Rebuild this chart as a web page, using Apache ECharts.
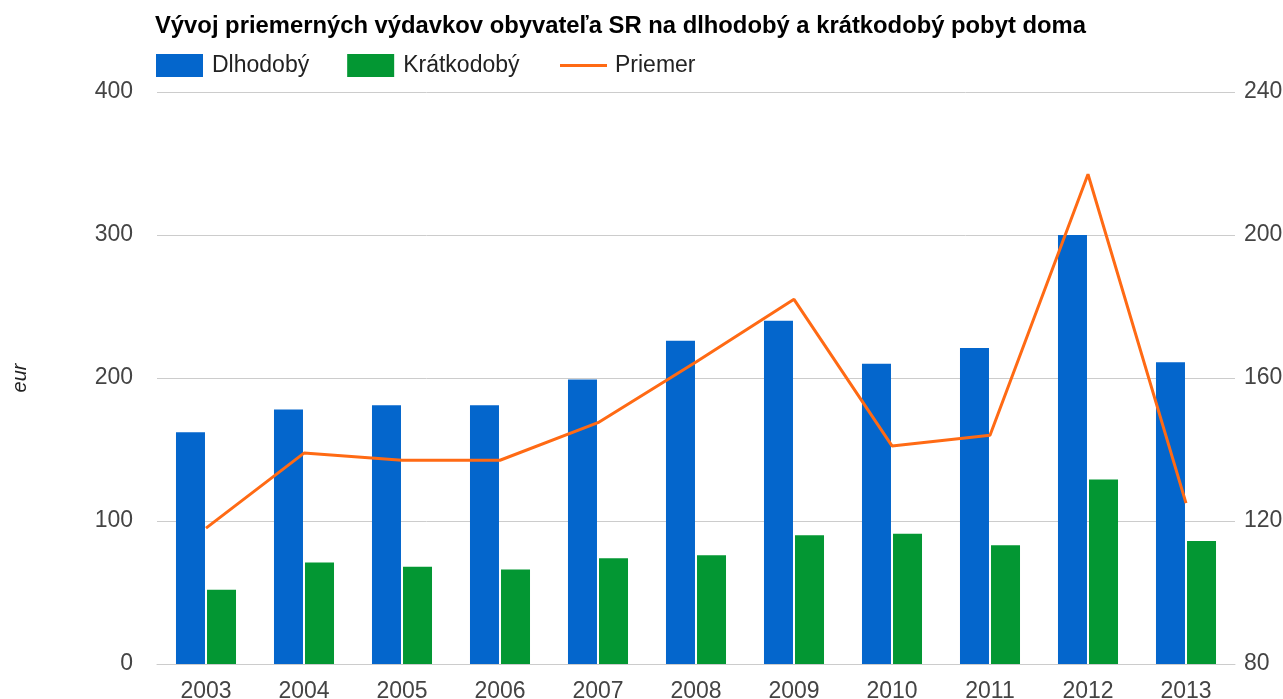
<!DOCTYPE html>
<html><head><meta charset="utf-8">
<script src="https://cdn.jsdelivr.net/npm/echarts@6/dist/echarts.min.js"></script>
<style>html,body{margin:0;padding:0;background:#fff}#c{width:1283px;height:699px}</style>
</head><body><div id="c"></div>
<script>
const years = ['2003','2004','2005','2006','2007','2008','2009','2010','2011','2012','2013'];
const dlhodoby = [162, 178, 181, 181, 199, 226, 240, 210, 221, 300, 211];
const kratkodoby = [52, 71, 68, 66, 74, 76, 90, 91, 83, 129, 86];
const priemer = [118, 139, 137, 137, 147.5, 164.5, 182, 141, 144, 217, 125];
const seriesNames = ['Dlhodobý', 'Krátkodobý', 'Priemer'];
const titleText = 'Vývoj priemerných výdavkov obyvateľa SR na dlhodobý a krátkodobý pobyt doma';
const axisName = 'eur';

const FONT = 'Liberation Sans, Arial, sans-serif';
const chart = echarts.init(document.getElementById('c'), null, {renderer: 'canvas'});
chart.setOption({
  animation: false,
  textStyle: {fontFamily: FONT},
  title: {
    text: titleText, left: 150, top: 9,
    textStyle: {fontFamily: FONT, fontSize: 23.8, fontWeight: 'bold', color: '#000'}
  },
  legend: [{
    data: [seriesNames[0], seriesNames[1]], left: 151, top: 49,
    icon: 'rect', itemWidth: 47, itemHeight: 23, itemGap: 38,
    textStyle: {fontFamily: FONT, fontSize: 23, color: '#222', padding: [0, 0, 0, 4]}
  }, {
    data: [seriesNames[2]], left: 555, top: 49,
    icon: 'rect', itemWidth: 47, itemHeight: 3,
    textStyle: {fontFamily: FONT, fontSize: 23, color: '#222', padding: [0, 0, 0, 3]}
  }],
  grid: {left: 157, right: 48, top: 92, bottom: 35, containLabel: false, outerBoundsMode: 'none'},
  xAxis: {
    type: 'category', data: years,
    axisLine: {lineStyle: {color: '#ccc'}},
    axisTick: {show: false},
    axisLabel: {fontFamily: FONT, fontSize: 23, color: '#444', margin: 16}
  },
  yAxis: [{
    type: 'value', min: 0, max: 400, interval: 100,
    name: axisName, nameLocation: 'middle', nameGap: 127,
    nameTextStyle: {fontFamily: FONT, fontSize: 20, fontStyle: 'italic', color: '#222'},
    axisLine: {show: false}, axisTick: {show: false},
    axisLabel: {fontFamily: FONT, fontSize: 23, color: '#444', margin: 24},
    splitLine: {lineStyle: {color: '#ccc'}}
  }, {
    type: 'value', min: 80, max: 240, interval: 40, position: 'right',
    axisLine: {show: false}, axisTick: {show: false},
    axisLabel: {fontFamily: FONT, fontSize: 23, color: '#444', margin: 9},
    splitLine: {show: false}
  }],
  series: [{
    name: seriesNames[0], type: 'bar', data: dlhodoby, barWidth: 29, barGap: '7%',
    itemStyle: {color: '#0466cc'}
  }, {
    name: seriesNames[1], type: 'bar', data: kratkodoby, barWidth: 29,
    itemStyle: {color: '#039733'}
  }, {
    name: seriesNames[2], type: 'line', yAxisIndex: 1, data: priemer,
    showSymbol: false, symbol: 'none',
    lineStyle: {color: '#ff6a14', width: 3}, itemStyle: {color: '#ff6a14'}
  }]
});
</script></body></html>
